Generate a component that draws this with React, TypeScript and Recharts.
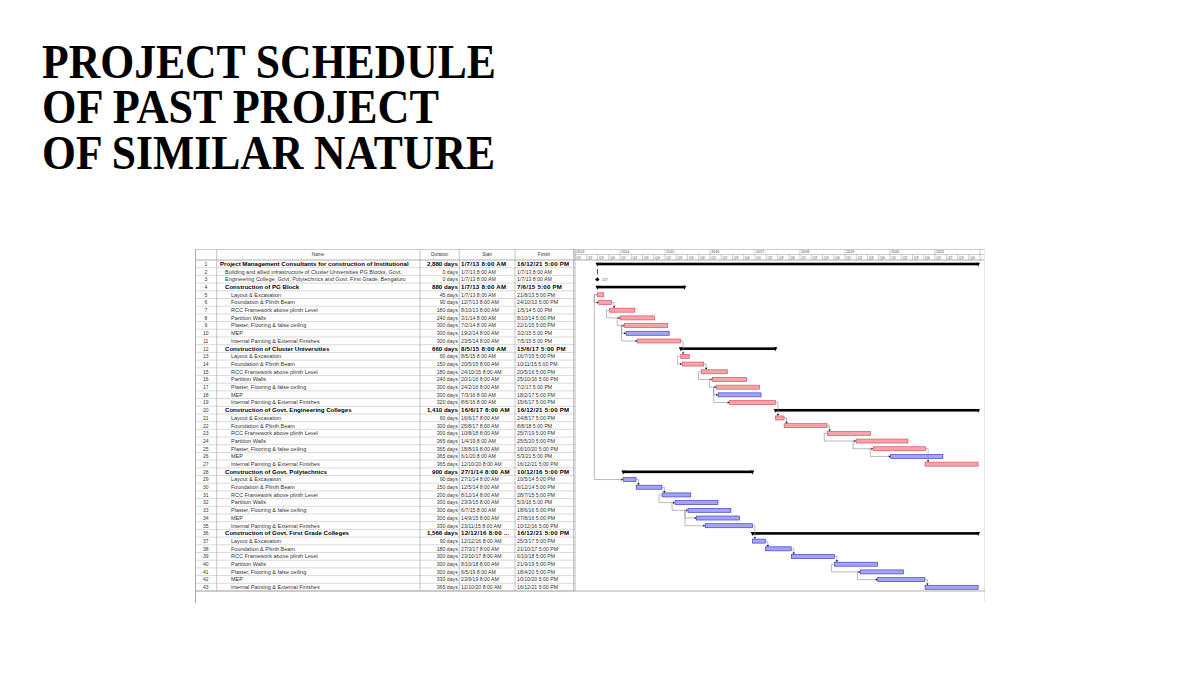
import React from 'react'
import { Bar, BarChart, XAxis, YAxis } from 'recharts'

// table columns, one entry per row (rows are numbered 1..43)
const NAMES = [
  'Project Management Consultants for construction of Institutional',
  'Building and allied infrastructure of Cluster Universities PG Blocks, Govt.',
  'Engineering College, Govt. Polytechnics and Govt. First Grade, Bengaluru',
  'Construction of PG Block',
  'Layout & Excavation',
  'Foundation & Plinth Beam',
  'RCC Framework above plinth Level',
  'Partition Walls',
  'Plaster, Flooring & false ceiling',
  'MEP',
  'Internal Painting & External Finishes',
  'Construction of Cluster Universities',
  'Layout & Excavation',
  'Foundation & Plinth Beam',
  'RCC Framework above plinth Level',
  'Partition Walls',
  'Plaster, Flooring & false ceiling',
  'MEP',
  'Internal Painting & External Finishes',
  'Construction of Govt. Engineering Colleges',
  'Layout & Excavation',
  'Foundation & Plinth Beam',
  'RCC Framework above plinth Level',
  'Partition Walls',
  'Plaster, Flooring & false ceiling',
  'MEP',
  'Internal Painting & External Finishes',
  'Construction of Govt. Polytechnics',
  'Layout & Excavation',
  'Foundation & Plinth Beam',
  'RCC Framework above plinth Level',
  'Partition Walls',
  'Plaster, Flooring & false ceiling',
  'MEP',
  'Internal Painting & External Finishes',
  'Construction of Govt. First Grade Colleges',
  'Layout & Excavation',
  'Foundation & Plinth Beam',
  'RCC Framework above plinth Level',
  'Partition Walls',
  'Plaster, Flooring & false ceiling',
  'MEP',
  'Internal Painting & External Finishes',
]

const DURATIONS = [
  '2,880 days', '0 days', '0 days',
  '880 days', '45 days', '90 days', '180 days', '240 days', '300 days', '300 days', '300 days',
  '660 days', '60 days', '150 days', '180 days', '240 days', '300 days', '300 days', '320 days',
  '1,410 days', '60 days', '300 days', '300 days', '365 days', '365 days', '365 days', '365 days',
  '900 days', '90 days', '150 days', '200 days', '300 days', '300 days', '300 days', '330 days',
  '1,566 days', '90 days', '180 days', '300 days', '300 days', '300 days', '330 days', '365 days',
]

const STARTS = [
  '1/7/13 8:00 AM', '1/7/13 8:00 AM', '1/7/13 8:00 AM',
  '1/7/13 8:00 AM', '1/7/13 8:00 AM', '12/7/13 8:00 AM', '8/10/13 8:00 AM', '3/1/14 8:00 AM',
  '7/2/14 8:00 AM', '19/2/14 8:00 AM', '23/5/14 8:00 AM',
  '8/5/15 8:00 AM', '8/5/15 8:00 AM', '20/5/15 8:00 AM', '24/10/15 8:00 AM', '20/1/16 8:00 AM',
  '24/2/16 8:00 AM', '7/3/16 8:00 AM', '8/6/16 8:00 AM',
  '16/6/17 8:00 AM', '16/6/17 8:00 AM', '25/8/17 8:00 AM', '10/8/18 8:00 AM', '1/4/19 8:00 AM',
  '18/8/19 8:00 AM', '6/1/20 8:00 AM', '12/10/20 8:00 AM',
  '27/1/14 8:00 AM', '27/1/14 8:00 AM', '12/5/14 8:00 AM', '8/12/14 8:00 AM', '23/3/15 8:00 AM',
  '6/7/15 8:00 AM', '14/9/15 8:00 AM', '23/11/15 8:00 AM',
  '12/12/16 8:00 AM', '12/12/16 8:00 AM', '27/3/17 8:00 AM', '23/10/17 8:00 AM', '8/10/18 8:00 AM',
  '6/5/19 8:00 AM', '23/9/19 8:00 AM', '12/10/20 8:00 AM',
]

const FINISHES = [
  '16/12/21 5:00 PM', '1/7/13 8:00 AM', '1/7/13 8:00 AM',
  '7/6/15 5:00 PM', '21/8/13 5:00 PM', '24/10/13 5:00 PM', '1/5/14 5:00 PM', '8/10/14 5:00 PM',
  '22/1/15 5:00 PM', '3/2/15 5:00 PM', '7/5/15 5:00 PM',
  '15/6/17 5:00 PM', '16/7/15 5:00 PM', '10/11/15 5:00 PM', '20/5/16 5:00 PM', '25/10/16 5:00 PM',
  '7/2/17 5:00 PM', '18/2/17 5:00 PM', '15/6/17 5:00 PM',
  '16/12/21 5:00 PM', '24/8/17 5:00 PM', '8/8/18 5:00 PM', '25/7/19 5:00 PM', '25/5/20 5:00 PM',
  '16/10/20 5:00 PM', '5/3/21 5:00 PM', '16/12/21 5:00 PM',
  '10/12/16 5:00 PM', '10/5/14 5:00 PM', '6/12/14 5:00 PM', '28/7/15 5:00 PM', '5/3/16 5:00 PM',
  '18/6/16 5:00 PM', '27/8/16 5:00 PM', '10/12/16 5:00 PM',
  '16/12/21 5:00 PM', '25/3/17 5:00 PM', '21/10/17 5:00 PM', '6/10/18 5:00 PM', '21/9/19 5:00 PM',
  '18/4/20 5:00 PM', '10/10/20 5:00 PM', '16/12/21 5:00 PM',
]

// S summary, P normal task, B critical task, M milestone, L zero-length marker
const KINDS = 'SLMSPPPPPBPSPPPPPBPSPPPPPBPSBBBBBBBSBBBBBBB'.split('')
const LEVELS = [0, 1, 1, 1, 2, 2, 2, 2, 2, 2, 2, 1, 2, 2, 2, 2, 2, 2, 2, 1, 2, 2, 2, 2, 2, 2, 2,
  1, 2, 2, 2, 2, 2, 2, 2, 1, 2, 2, 2, 2, 2, 2, 2]

// links: [predecessor, successor, type]
const LINKS: [number, number, 'FS' | 'SS'][] = [
  [5, 6, 'SS'], [6, 7, 'FS'], [7, 8, 'SS'], [8, 9, 'SS'], [9, 10, 'SS'], [9, 11, 'SS'], [11, 13, 'FS'],
  [13, 14, 'SS'], [14, 15, 'FS'], [15, 16, 'SS'], [16, 17, 'SS'], [17, 18, 'SS'], [17, 19, 'SS'], [19, 21, 'FS'],
  [21, 22, 'FS'], [22, 23, 'FS'], [23, 24, 'SS'], [24, 25, 'SS'], [25, 26, 'SS'], [25, 27, 'FS'],
  [5, 29, 'SS'], [29, 30, 'FS'], [30, 31, 'FS'], [31, 32, 'SS'], [32, 33, 'SS'], [33, 34, 'SS'], [33, 35, 'SS'], [35, 37, 'FS'],
  [37, 38, 'FS'], [38, 39, 'FS'], [39, 40, 'FS'], [40, 41, 'SS'], [41, 42, 'SS'], [42, 43, 'FS'],
]

const YEARS = ['2013', '2014', '2015', '2016', '2017', '2018', '2019', '2020', '2021', '2022']
const QUARTERS = ['Q1', 'Q2', 'Q3', 'Q4']

const TITLE = ['PROJECT SCHEDULE', 'OF PAST PROJECT', 'OF SIMILAR NATURE']

// layout
const TABLE_W = 380
const GANTT_W = 410
const CHART_W = TABLE_W + GANTT_W
const HEAD_H = 11
const BOTTOM = 12
const CHART_H = 354
const PLOT_H = CHART_H - HEAD_H - BOTTOM
const ROW_H = PLOT_H / NAMES.length
const D0 = 2013
const D1 = 2013 + GANTT_W / 45
const COL_LINES = [21.7, 225, 264.3, 320, 378.5]
const NAME_X = [25, 30, 36]
const SANS = 'Liberation Sans, Arial, sans-serif'

const PINK = { fill: '#F6A4AA', stroke: '#DB5562' }
const BLUE = { fill: '#A4A4F6', stroke: '#4343C6' }

function toYear(s: string) {
  const [date, hm, ap] = s.split(' ')
  const [d, m, y] = date.split('/').map(Number)
  const year = 2000 + y
  let h = Number(hm.split(':')[0])
  if (ap === 'PM' && h < 12) h += 12
  const t0 = Date.UTC(year, 0, 1)
  const t1 = Date.UTC(year + 1, 0, 1)
  return year + (Date.UTC(year, m - 1, d, h) - t0) / (t1 - t0)
}

const rows = NAMES.map((name, i) => {
  const s = toYear(STARTS[i])
  const e = toYear(FINISHES[i])
  return {
    id: String(i + 1),
    name,
    dur: DURATIONS[i],
    start: STARTS[i],
    finish: FINISHES[i],
    kind: KINDS[i],
    level: LEVELS[i],
    span: [s, e > s ? e : s + 0.002],
  }
})

const quarterTicks = YEARS.flatMap((y, yi) =>
  yi === YEARS.length - 1 ? [Number(y)] : QUARTERS.map((_, qi) => Number(y) + qi / 4),
)

function RowTick(props: any) {
  const { y, payload } = props
  const r = rows[Number(payload.value) - 1]
  if (!r) return null
  const top = y - ROW_H / 2
  const bot = y + ROW_H / 2
  const bold = r.kind === 'S'
  const base = y + 2
  let startText = r.start
  if (bold && startText.length > 15) startText = startText.slice(0, 14) + '...'
  const weight = bold ? 700 : 400
  const fill = bold ? '#000' : '#333'
  const dateSize = bold ? 6.1 : 5.2
  const spacing = bold ? 0.25 : 0
  return (
    <g fontFamily={SANS}>
      <line x1={0} x2={TABLE_W} y1={bot} y2={bot} stroke="#b5b5b5" strokeWidth={0.5} />
      {COL_LINES.map((cx) => (
        <line key={cx} x1={cx} x2={cx} y1={top} y2={bot} stroke="#8a8a8a" strokeWidth={0.5} />
      ))}
      <text x={10.8} y={base} fontSize={5} textAnchor="middle" fill="#333">{r.id}</text>
      <text x={NAME_X[r.level]} y={base} fontSize={bold ? 6.1 : 5.5} fontWeight={weight} fill={fill}>{r.name}</text>
      <text x={262.8} y={base} fontSize={dateSize} fontWeight={weight} textAnchor="end" fill={fill}>{r.dur}</text>
      <text x={266} y={base} fontSize={dateSize} fontWeight={weight} letterSpacing={spacing} fill={fill}>{startText}</text>
      <text x={322} y={base} fontSize={dateSize} fontWeight={weight} letterSpacing={spacing} fill={fill}>{r.finish}</text>
    </g>
  )
}

function TimeTick(props: any) {
  const { x, payload } = props
  const v = Number(payload.value)
  const yearStart = Math.abs(v - Math.round(v)) < 1e-6
  const q = Math.round((v - Math.floor(v)) * 4)
  const last = x > CHART_W - 8
  return (
    <g fontFamily={SANS} fill="#444">
      <line x1={x} x2={x} y1={yearStart ? 0 : 5.5} y2={HEAD_H} stroke="#9a9a9a" strokeWidth={0.5} />
      {!last && <text x={x + 1.3} y={9.6} fontSize={3.5}>{QUARTERS[q]}</text>}
      {yearStart && !last && <text x={x + 1.3} y={4.3} fontSize={3.6}>{String(Math.round(v))}</text>}
    </g>
  )
}

function arrowDown(x: number, y: number) {
  return `${x - 1.3},${y - 1.9} ${x + 1.3},${y - 1.9} ${x},${y}`
}
function arrowRight(x: number, y: number) {
  return `${x - 1.9},${y - 1.3} ${x - 1.9},${y + 1.3} ${x},${y}`
}

function TaskShape(props: any) {
  const { x, y, width, height, payload } = props
  if (payload == null) return null
  const cy = y + height / 2
  const [s, e] = payload.span
  const idx = Number(payload.id)
  const kind = payload.kind

  if (kind === 'S') {
    const x2 = x + width
    return (
      <g>
        <rect x={x} y={cy - 1.3} width={width} height={2.6} fill="#000" />
        <polygon points={`${x - 1.9},${cy - 1.3} ${x + 1.9},${cy - 1.3} ${x},${cy + 2.6}`} fill="#000" />
        <polygon points={`${x2 - 1.9},${cy - 1.3} ${x2 + 1.9},${cy - 1.3} ${x2},${cy + 2.6}`} fill="#000" />
      </g>
    )
  }
  if (kind === 'M') {
    return (
      <g>
        <polygon points={`${x},${cy - 2.2} ${x + 2.2},${cy} ${x},${cy + 2.2} ${x - 2.2},${cy}`} fill="#000" />
        <text x={x + 5} y={cy + 1.4} fontSize={3.8} fontFamily={SANS} fill="#444">
          {payload.start.split('/').slice(0, 2).join('/')}
        </text>
      </g>
    )
  }
  if (kind === 'L') {
    return <rect x={x - 0.4} y={cy - 2.6} width={0.9} height={5.2} fill="#2a2aa0" />
  }

  const ppu = width / (e - s)
  const col = kind === 'B' ? BLUE : PINK
  const links = LINKS.filter((l) => l[1] === idx).map(([from, , type], k) => {
    const pred = rows[from - 1]
    const cyP = cy - (idx - from) * ROW_H
    if (type === 'FS') {
      const xe = x + (pred.span[1] - s) * ppu
      const xv = xe + 2.5
      return (
        <g key={k}>
          <path d={`M${xe},${cyP} H${xv} V${cy - 3.5}`} fill="none" stroke="#8a8a8a" strokeWidth={0.6} />
          <polygon points={arrowDown(xv, cy - 2)} fill="#111" />
        </g>
      )
    }
    const xs = x + (pred.span[0] - s) * ppu
    const xl = xs - 3
    return (
      <g key={k}>
        <path d={`M${xs},${cyP} H${xl} V${cy} H${x - 1.5}`} fill="none" stroke="#8a8a8a" strokeWidth={0.6} />
        <polygon points={arrowRight(x, cy)} fill="#111" />
      </g>
    )
  })

  return (
    <g>
      {links}
      <rect x={x} y={cy - 2} width={width} height={4} fill={col.fill} stroke={col.stroke} strokeWidth={0.7} />
    </g>
  )
}

function Frame() {
  return (
    <svg width={CHART_W} height={CHART_H} style={{ position: 'absolute', left: 0, top: 0, pointerEvents: 'none' }}>
      <g fontFamily={SANS} fontSize={4.6} fill="#333" textAnchor="middle">
        <text x={123} y={7.3}>Name</text>
        <text x={244.6} y={7.3}>Duration</text>
        <text x={292} y={7.3}>Start</text>
        <text x={349} y={7.3}>Finish</text>
      </g>
      <line x1={0} x2={CHART_W} y1={0.3} y2={0.3} stroke="#9a9a9a" strokeWidth={0.6} />
      <line x1={0} x2={CHART_W} y1={HEAD_H} y2={HEAD_H} stroke="#777" strokeWidth={0.6} />
      <line x1={TABLE_W} x2={CHART_W} y1={5.5} y2={5.5} stroke="#9a9a9a" strokeWidth={0.5} />
      {COL_LINES.map((cx) => (
        <line key={cx} x1={cx} x2={cx} y1={0} y2={HEAD_H} stroke="#8a8a8a" strokeWidth={0.5} />
      ))}
      <line x1={0.5} x2={0.5} y1={0} y2={CHART_H} stroke="#9a9a9a" strokeWidth={0.8} />
      <line x1={TABLE_W} x2={TABLE_W} y1={0} y2={HEAD_H + PLOT_H} stroke="#aaa" strokeWidth={0.8} />
      <line x1={CHART_W - 0.5} x2={CHART_W - 0.5} y1={0} y2={CHART_H} stroke="#e2e2e2" strokeWidth={0.8} />
      <line x1={0} x2={CHART_W} y1={HEAD_H + PLOT_H} y2={HEAD_H + PLOT_H} stroke="#9a9a9a" strokeWidth={0.8} />
    </svg>
  )
}

export default function App() {
  return (
    <div style={{ position: 'absolute', left: 0, top: 0, width: 1200, height: 675, background: '#fff', overflow: 'hidden' }}>
      <svg width={560} height={200} style={{ position: 'absolute', left: 0, top: 0 }}>
        {TITLE.map((t, i) => (
          <text
            key={t}
            transform={`translate(42 ${78 + i * 45.4}) scale(1 1.19)`}
            x={0}
            y={0}
            textLength={[454, 397, 453][i]}
            lengthAdjust="spacingAndGlyphs"
            fontFamily="Liberation Serif, DejaVu Serif, serif"
            fontWeight={700}
            fontSize={40.5}
            fill="#000"
          >
            {t}
          </text>
        ))}
      </svg>

      <div style={{ position: 'absolute', left: 195, top: 249, width: CHART_W, height: CHART_H }}>
        <BarChart
          layout="vertical"
          width={CHART_W}
          height={CHART_H}
          data={rows}
          margin={{ top: 0, right: 0, bottom: BOTTOM, left: 0 }}
          barCategoryGap={0}
        >
          <XAxis
            type="number"
            orientation="top"
            domain={[D0, D1]}
            ticks={quarterTicks}
            interval={0}
            height={HEAD_H}
            allowDataOverflow
            axisLine={false}
            tickLine={false}
            tick={<TimeTick />}
          />
          <YAxis
            type="category"
            dataKey="id"
            width={TABLE_W}
            interval={0}
            axisLine={false}
            tickLine={false}
            tick={<RowTick />}
          />
          <Bar dataKey="span" barSize={4} shape={<TaskShape />} isAnimationActive={false} />
        </BarChart>
        <Frame />
      </div>
    </div>
  )
}
